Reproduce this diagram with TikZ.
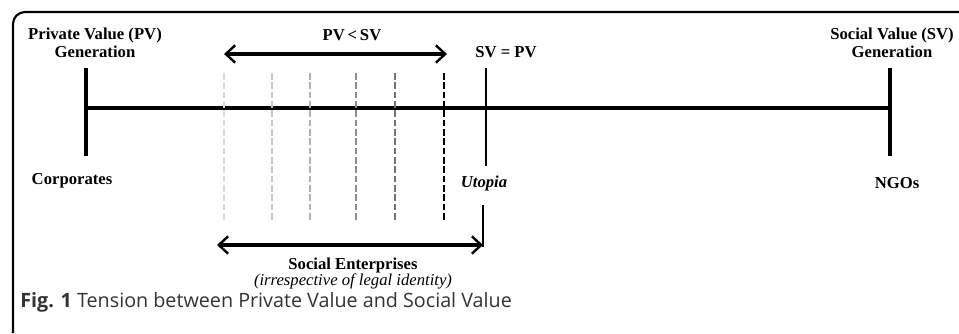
\documentclass[tikz,border=0pt]{standalone}
\usepackage{fontspec}
\setmainfont{Liberation Serif}
\newfontfamily\capfont{Open Sans}
\usetikzlibrary{arrows.meta}
\begin{document}
\begin{tikzpicture}[x=0.75pt,y=-0.75pt,font=\fontsize{12.5}{13.5}\selectfont\bfseries,
  >={Straight Barb[length=7pt,width=13pt,line width=1.8pt]}]
\useasboundingbox (0,0) rectangle (959,333);
\draw [line width=1.6pt, rounded corners=9pt] (13,333) -- (13,12) -- (959,12);

\coordinate (pvtop) at (86,68);
\coordinate (pvbot) at (86,156);
\coordinate (svtop) at (890,68);
\coordinate (svbot) at (890,156);
\coordinate (pvmid) at (86,108);
\coordinate (svmid) at (890,108);
\draw [line width=2.6pt] (pvtop) -- (pvbot);
\draw [line width=2.6pt] (svtop) -- (svbot);
\draw [line width=2.6pt] (pvmid) -- (svmid);

\node [align=center] (pvlabel) at (95,43) {Private Value (PV)\\Generation};
\node [align=center] (svlabel) at (892,43) {Social Value (SV)\\Generation};
\node (corp) at (72,181) {Corporates};
\node (ngo) at (897,183) {NGOs};

\foreach \x/\g in {224/15,272/22,310/30,356/45,395/55,444/100}
  \draw [line width=2.2pt, dash pattern=on 5pt off 2pt, black!\g] (\x,73) -- (\x,220);

\coordinate (ltop) at (224,54);
\coordinate (rtop) at (447,54);
\draw [<->, line width=2.4pt] (ltop) -- (rtop);
\node (less) at (352,35) {PV\,<\,SV};

\coordinate (uttop) at (486,68);
\coordinate (utup) at (486,166);
\coordinate (utlow) at (483,205);
\coordinate (utbot) at (483,247);
\draw [line width=2pt] (uttop) -- (utup);
\draw [line width=2pt] (utlow) -- (utbot);
\node (eq) at (506,52) {SV = PV};
\node (utopia) at (484,183) {\itshape Utopia};

\coordinate (lbot) at (217,245);
\coordinate (rbot) at (483,245);
\draw [<->, line width=2.4pt] (lbot) -- (rbot);
\node [align=center, font=\fontsize{12.5}{12}\selectfont\bfseries] (se) at (353,274)
  {Social Enterprises\\{\mdseries\itshape (irrespective of legal identity)}};

\node [anchor=base west, inner sep=0pt, font=\capfont\fontsize{14.8}{16}\selectfont, text=black!80] (cap) at (20,307)
  {\textbf{Fig. 1} Tension between Private Value and Social Value};
\end{tikzpicture}
\end{document}
